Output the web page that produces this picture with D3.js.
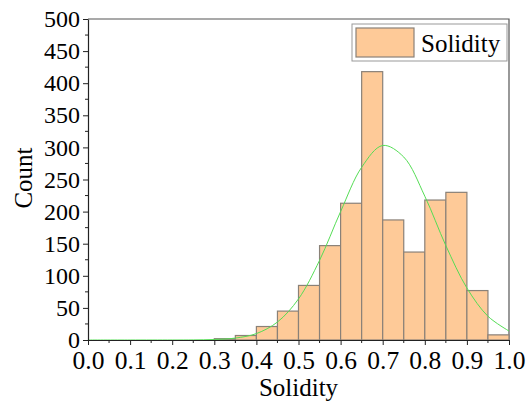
<!DOCTYPE html>
<html><head><meta charset="utf-8">
<script src="https://cdn.jsdelivr.net/npm/d3@7"></script>
<style>
html,body{margin:0;padding:0;background:#fff;}
text{font-family:"Liberation Serif","Times New Roman",serif;fill:#000;}
</style></head>
<body>
<svg id="chart" width="532" height="405"></svg>
<script>
// Histogram bins (start of bin, width 0.05) and counts
const binStarts = [0.30,0.35,0.40,0.45,0.50,0.55,0.60,0.65,0.70,0.75,0.80,0.85,0.90,0.95];
const counts    = [2,7,21,45,85,147,213,418,187,137,218,230,77,8];
const binWidth = 0.05;
// Fitted curve
const curveX = [0.0,0.1,0.2,0.25,0.30,0.35,0.40,0.45,0.50,0.55,0.60,0.65,0.70,0.75,0.80,0.85,0.90,0.95,1.00];
const curveY = [0,0,0.03,0.15,0.8,3,10,28,64,124,200,269,303,285,224,147,81,37,14];
const xTicks = [0.0,0.1,0.2,0.3,0.4,0.5,0.6,0.7,0.8,0.9,1.0];
const yTicks = [0,50,100,150,200,250,300,350,400,450,500];
const seriesName = "Solidity";

const svg = d3.select("#chart");
const m = {left:88, top:19, right:23, bottom:65};
const W = 532 - m.left - m.right, H = 405 - m.top - m.bottom;
const x = d3.scaleLinear().domain([0,1]).range([m.left, m.left+W]);
const y = d3.scaleLinear().domain([0,500]).range([m.top+H, m.top]);

// frame (top/right)
svg.append("path")
  .attr("d", `M${x(0)},${y(500)}H${x(1)}V${y(0)}`)
  .attr("fill","none").attr("stroke","#555").attr("stroke-width",1.2);

// bars
svg.append("g").selectAll("rect").data(binStarts).join("rect")
  .attr("x", d=>x(d))
  .attr("width", d=>x(d+binWidth)-x(d))
  .attr("y", (d,i)=>y(counts[i]))
  .attr("height", (d,i)=>y(0)-y(counts[i]))
  .attr("fill","#FECA98").attr("stroke","#8a8178").attr("stroke-width",1.2);

// curve
const pts = curveX.map((v,i)=>[v,curveY[i]]);
svg.append("path").datum(pts)
  .attr("d", d3.line().x(d=>x(d[0])).y(d=>y(d[1])).curve(d3.curveCatmullRom))
  .attr("fill","none").attr("stroke","#55DD55").attr("stroke-width",1);

// minor ticks
const xMinor = d3.range(0.05,1.0,0.1);
svg.append("g").selectAll("line").data(xMinor).join("line")
  .attr("x1",d=>x(d)).attr("x2",d=>x(d)).attr("y1",y(0)).attr("y2",y(0)+3)
  .attr("stroke","#222").attr("stroke-width",1);
const yMinor = d3.range(25,500,50);
svg.append("g").selectAll("line").data(yMinor).join("line")
  .attr("y1",d=>y(d)).attr("y2",d=>y(d)).attr("x1",x(0)).attr("x2",x(0)-3)
  .attr("stroke","#222").attr("stroke-width",1);

// axes
const xAxis = svg.append("g").attr("transform",`translate(0,${y(0)})`)
  .call(d3.axisBottom(x).tickValues(xTicks).tickFormat(d3.format(".1f")).tickSizeInner(5).tickSizeOuter(0).tickPadding(6));
const yAxis = svg.append("g").attr("transform",`translate(${x(0)},0)`)
  .call(d3.axisLeft(y).tickValues(yTicks).tickSizeInner(5).tickSizeOuter(0).tickPadding(3));
[xAxis,yAxis].forEach(a=>{
  a.selectAll("path").attr("stroke","#222").attr("stroke-width",1.2);
  a.selectAll("line").attr("stroke","#222").attr("stroke-width",1);
  a.selectAll("text").attr("font-family","Liberation Serif").attr("fill","#000");
});
xAxis.selectAll("text").attr("font-size",25.5);
yAxis.selectAll("text").attr("font-size",24);

// axis titles
svg.append("text").attr("x", x(0.5)).attr("y", 396).attr("text-anchor","middle")
  .attr("font-size",25).text("Solidity");
svg.append("text").attr("transform","translate(32,178) rotate(-90)").attr("text-anchor","middle")
  .attr("font-size",25).text("Count");

// legend
const lg = svg.append("g");
lg.append("rect").attr("x",352).attr("y",24).attr("width",155).attr("height",37)
  .attr("fill","#fff").attr("stroke","#999").attr("stroke-width",1);
lg.append("rect").attr("x",356).attr("y",28).attr("width",58).attr("height",29)
  .attr("fill","#FECA98").attr("stroke","#8a8178").attr("stroke-width",1.2);
lg.append("text").attr("x",421).attr("y",52).attr("font-size",25).text(seriesName);
</script>
</body></html>
